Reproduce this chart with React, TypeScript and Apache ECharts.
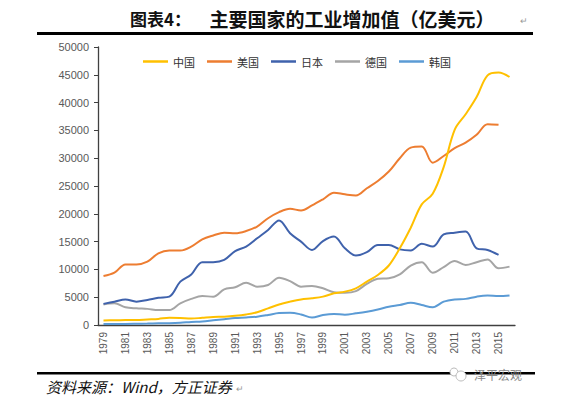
import React, { useEffect, useRef } from 'react';
import * as echarts from 'echarts';

const years = ['1979','1980','1981','1982','1983','1984','1985','1986','1987','1988','1989','1990','1991','1992','1993','1994','1995','1996','1997','1998','1999','2000','2001','2002','2003','2004','2005','2006','2007','2008','2009','2010','2011','2012','2013','2014','2015','2016'];

const seriesNames = ['中国', '美国', '日本', '德国', '韩国'];

const china = [800, 850, 880, 900, 1000, 1100, 1300, 1250, 1150, 1300, 1450, 1500, 1650, 1900, 2300, 3000, 3700, 4200, 4600, 4800, 5100, 5700, 6000, 6600, 7800, 9000, 10700, 13800, 17500, 21700, 23600, 28400, 35100, 37900, 41000, 44900, 45400, 44600];
const usa = [8800, 9400, 10900, 10900, 11400, 12900, 13400, 13400, 14100, 15400, 16100, 16600, 16500, 16900, 17700, 19200, 20300, 20900, 20600, 21500, 22600, 23800, 23500, 23300, 24600, 25900, 27600, 30000, 31900, 32100, 29200, 30400, 31800, 32800, 34200, 36100, 36000];
const japan = [3800, 4200, 4600, 4200, 4500, 4900, 5100, 7800, 9100, 11300, 11300, 11700, 13300, 14100, 15600, 17100, 18800, 16500, 15000, 13500, 15100, 15900, 13800, 12500, 13100, 14400, 14400, 13600, 13400, 14600, 14100, 16300, 16600, 16800, 13800, 13500, 12600];
const germany = [3700, 3900, 3200, 3000, 2900, 2700, 2700, 3900, 4700, 5200, 5100, 6400, 6800, 7600, 6900, 7200, 8500, 7900, 6900, 7000, 6600, 5900, 5800, 6100, 7400, 8300, 8400, 9100, 10700, 11300, 9400, 10400, 11500, 10800, 11300, 11800, 10200, 10500];
const korea = [200, 200, 200, 220, 250, 300, 320, 400, 550, 650, 850, 1050, 1250, 1350, 1500, 1800, 2150, 2200, 1900, 1350, 1800, 2000, 1850, 2100, 2400, 2800, 3300, 3600, 4000, 3600, 3200, 4200, 4600, 4700, 5100, 5300, 5200, 5300];

const colors = ['#FFC000', '#ED7D31', '#3F62AC', '#A5A5A5', '#5B9BD5'];

const titleLeft = '图表4：';
const titleMain = '主要国家的工业增加值（亿美元）';
const sourceText = '资料来源：Wind，方正证券';
const watermark = '泽平宏观';

export default function App() {
  const ref = useRef<HTMLDivElement>(null);
  useEffect(() => {
    if (!ref.current) return;
    const chart = echarts.init(ref.current, null, { renderer: 'svg' });
    const datasets = [china, usa, japan, germany, korea];
    const cjk = '"Noto Sans CJK SC", sans-serif';
    chart.setOption({
      animation: false,
      backgroundColor: '#ffffff',
      color: colors,
      grid: { left: 98, right: 60, top: 47, bottom: 73, containLabel: false },
      legend: {
        data: seriesNames,
        left: 138,
        top: 51,
        icon: 'rect',
        itemWidth: 25,
        itemHeight: 2.5,
        itemGap: 12,
        textStyle: { fontSize: 11, color: '#333', fontFamily: cjk },
      },
      xAxis: {
        type: 'category',
        data: years,
        boundaryGap: true,
        axisLine: { lineStyle: { color: '#404040', width: 1.3 } },
        axisTick: { interval: 1, length: 5, lineStyle: { color: '#404040' } },
        axisLabel: { interval: 1, rotate: 90, fontSize: 10, color: '#595959', margin: 7, fontFamily: '"Liberation Sans", sans-serif' },
      },
      yAxis: {
        type: 'value',
        min: 0,
        max: 50000,
        interval: 5000,
        axisLine: { show: true, lineStyle: { color: '#404040', width: 1.3 } },
        axisTick: { show: true, length: 4, lineStyle: { color: '#404040' } },
        splitLine: { show: false },
        axisLabel: { fontSize: 11, color: '#595959', margin: 9, fontFamily: '"Liberation Sans", sans-serif', formatter: (v: number) => String(v) },
      },
      series: seriesNames.map((name, i) => ({
        name,
        type: 'line',
        data: datasets[i],
        smooth: 0.35,
        symbol: 'none',
        showSymbol: false,
        lineStyle: { width: 2, color: colors[i] },
        z: 10 - i,
      })),
      graphic: [
        { type: 'text', x: 130, y: 18, style: { text: titleLeft, fill: '#111', font: `bold 17px ${cjk}`, verticalAlign: 'middle', align: 'left' } },
        { type: 'text', x: 352, y: 18, style: { text: titleMain, fill: '#111', font: `bold 19px ${cjk}`, verticalAlign: 'middle', align: 'center' } },
        { type: 'text', x: 520, y: 20, style: { text: '↵', fill: '#999', font: `9px ${cjk}`, verticalAlign: 'middle', align: 'left' } },
        { type: 'rect', shape: { x: 37, y: 32, width: 496, height: 3 }, style: { fill: '#000' } },
        { type: 'rect', shape: { x: 37, y: 372, width: 498, height: 2.5 }, style: { fill: '#000' } },
        { type: 'text', x: 46, y: 386, style: { text: sourceText, fill: '#111', font: `italic 15px ${cjk}`, verticalAlign: 'middle', align: 'left' } },
        { type: 'text', x: 236, y: 388, style: { text: '↵', fill: '#999', font: `9px ${cjk}`, verticalAlign: 'middle', align: 'left' } },
        { type: 'circle', shape: { cx: 454, cy: 372, r: 4 }, style: { fill: '#fff', stroke: '#bbb', lineWidth: 1 } },
        { type: 'circle', shape: { cx: 461, cy: 376, r: 5 }, style: { fill: '#fff', stroke: '#bbb', lineWidth: 1 } },
        { type: 'text', x: 474, y: 374, style: { text: watermark, fill: '#888', font: `12px ${cjk}`, verticalAlign: 'middle', align: 'left' } },
      ],
    });
    return () => chart.dispose();
  }, []);
  return <div ref={ref} style={{ position: 'fixed', left: 0, top: 0, width: 575, height: 398 }} />;
}
